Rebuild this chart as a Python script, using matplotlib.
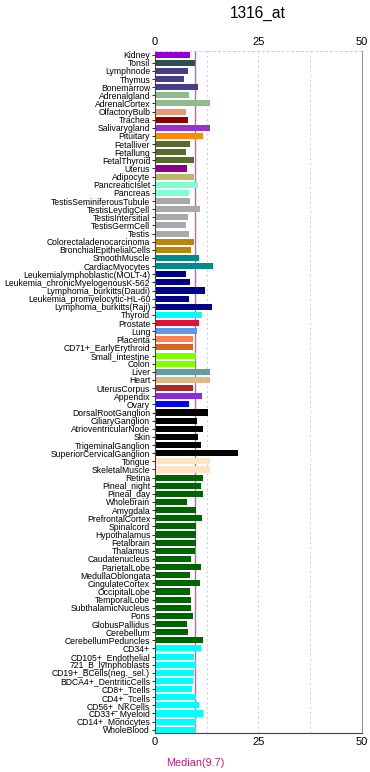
"""
Horizontal bar chart of expression per tissue for probe 1316_at,
with the median drawn as a vertical line.
"""

import matplotlib
matplotlib.use("Agg")
import matplotlib.pyplot as plt
from matplotlib.ticker import MultipleLocator

plt.rcParams['font.family'] = ['Liberation Sans', 'DejaVu Sans']

probe = "1316_at"
median = 9.7

tissues = [
    "Kidney", "Tonsil", "Lymphnode", "Thymus", "Bonemarrow", "Adrenalgland",
    "AdrenalCortex", "OlfactoryBulb", "Trachea", "Salivarygland", "Pituitary",
    "Fetalliver", "Fetallung", "FetalThyroid", "Uterus", "Adipocyte",
    "PancreaticIslet", "Pancreas", "TestisSeminiferousTubule", "TestisLeydigCell",
    "TestisIntersitial", "TestisGermCell", "Testis", "Colorectaladenocarcinoma",
    "BronchialEpithelialCells", "SmoothMuscle", "CardiacMyocytes",
    "Leukemialymphoblastic(MOLT-4)", "Leukemia_chronicMyelogenousK-562",
    "Lymphoma_burkitts(Daudi)", "Leukemia_promyelocytic-HL-60",
    "Lymphoma_burkitts(Raji)", "Thyroid", "Prostate", "Lung", "Placenta",
    "CD71+_EarlyErythroid", "Small_intestine", "Colon", "Liver", "Heart",
    "UterusCorpus", "Appendix", "Ovary", "DorsalRootGanglion", "CiliaryGanglion",
    "AtrioventricularNode", "Skin", "TrigeminalGanglion",
    "SuperiorCervicalGanglion", "Tongue", "SkeletalMuscle", "Retina",
    "Pineal_night", "Pineal_day", "Wholebrain", "Amygdala", "PrefrontalCortex",
    "Spinalcord", "Hypothalamus", "Fetalbrain", "Thalamus", "Caudatenucleus",
    "ParietalLobe", "MedullaOblongata", "CingulateCortex", "OccipitalLobe",
    "TemporalLobe", "SubthalamicNucleus", "Pons", "GlobusPallidus", "Cerebellum",
    "CerebellumPeduncles", "CD34+", "CD105+_Endothelial", "721_B_lymphoblasts",
    "CD19+_BCells(neg._sel.)", "BDCA4+_DentriticCells", "CD8+_Tcells",
    "CD4+_Tcells", "CD56+_NKCells", "CD33+_Myeloid", "CD14+_Monocytes",
    "WholeBlood",
]

values = [
    8.4, 9.6, 7.9, 7.0, 10.5, 8.1,
    13.2, 7.6, 7.9, 13.4, 11.5,
    8.4, 7.6, 9.3, 7.8, 9.3,
    10.3, 8.1, 8.4, 10.9,
    8.0, 7.6, 8.1, 9.3,
    8.7, 10.6, 14.1,
    7.4, 8.4,
    12.2, 8.2,
    13.8, 11.4, 10.7, 10.2, 9.2,
    9.1, 9.8, 9.6, 13.3, 13.2,
    9.2, 11.4, 8.1, 12.9, 10.1,
    11.5, 10.4, 11.2,
    20.1, 13.2, 13.2, 11.5,
    11.2, 11.6, 7.7, 9.8, 11.3,
    10.0, 9.9, 9.9, 9.7, 8.8,
    11.0, 8.4, 10.8, 8.4,
    8.6, 8.6, 9.2, 7.8, 8.0,
    11.6, 11.1, 9.4, 9.8,
    9.3, 9.2, 8.9,
    9.8, 10.6, 11.5, 10.0,
    9.8,
]

# colour per tissue group, repeated for each member
groups = [
    ("darkviolet", 1), ("darkslategray", 1), ("darkslateblue", 3),
    ("darkseagreen", 2), ("darksalmon", 1), ("darkred", 1), ("darkorchid", 1),
    ("darkorange", 1), ("darkolivegreen", 3), ("darkmagenta", 1),
    ("darkkhaki", 1), ("aquamarine", 2), ("darkgray", 5),
    ("darkgoldenrod", 2), ("darkcyan", 2), ("darkblue", 5), ("cyan", 1),
    ("crimson", 1), ("cornflowerblue", 1), ("coral", 1), ("chocolate", 1),
    ("chartreuse", 2), ("cadetblue", 1), ("burlywood", 1), ("brown", 1),
    ("blueviolet", 1), ("blue", 1), ("black", 6), ("bisque", 2),
    ("darkgreen", 21), ("cyan", 11),
]
colors = [c for c, n in groups for _ in range(n)]


def main():
    fig = plt.figure(figsize=(3.7, 7.72), dpi=100)
    ax = fig.add_axes([0.419, 0.0505, 0.559, 0.8835])

    ypos = list(range(len(tissues)))
    ax.barh(ypos, values, height=0.75, color=colors, edgecolor="none", zorder=2)
    # median sits behind the bars
    ax.axvline(median, color="#c860c0", lw=1, zorder=1)

    ax.set_xlim(0, 50)
    ax.set_ylim(len(tissues) - 0.6, -0.45)
    ax.set_yticks(ypos)
    ax.set_yticklabels(tissues, fontsize=6.2)
    ax.tick_params(axis="y", length=2.5, width=0.6, pad=1)

    ax.xaxis.set_major_locator(MultipleLocator(25))
    ax.xaxis.set_minor_locator(MultipleLocator(12.5))
    ax.tick_params(axis="x", which="both", top=True, labeltop=True,
                   labelsize=8, length=0, pad=3)
    ax.grid(axis="x", which="both", color="#cccccc", ls=(0, (2, 3)), lw=0.7, zorder=0)

    for side in ("left", "bottom"):
        ax.spines[side].set_color("#444444")
        ax.spines[side].set_linewidth(0.8)
    ax.spines["right"].set_color("#999999")
    ax.spines["right"].set_linewidth(0.8)
    ax.spines["top"].set_color("#cccccc")
    ax.spines["top"].set_linestyle((0, (2, 3)))
    ax.spines["top"].set_linewidth(0.7)

    ax.text(median, -0.044, f"Median({median})", transform=ax.get_xaxis_transform(),
            ha="center", va="center", fontsize=7.8, color="#b5207f")
    fig.text(0.698, 0.983, probe, ha="center", va="center", fontsize=11.2)

    fig.savefig("out.png", dpi=100)
    plt.close(fig)


if __name__ == "__main__":
    main()
